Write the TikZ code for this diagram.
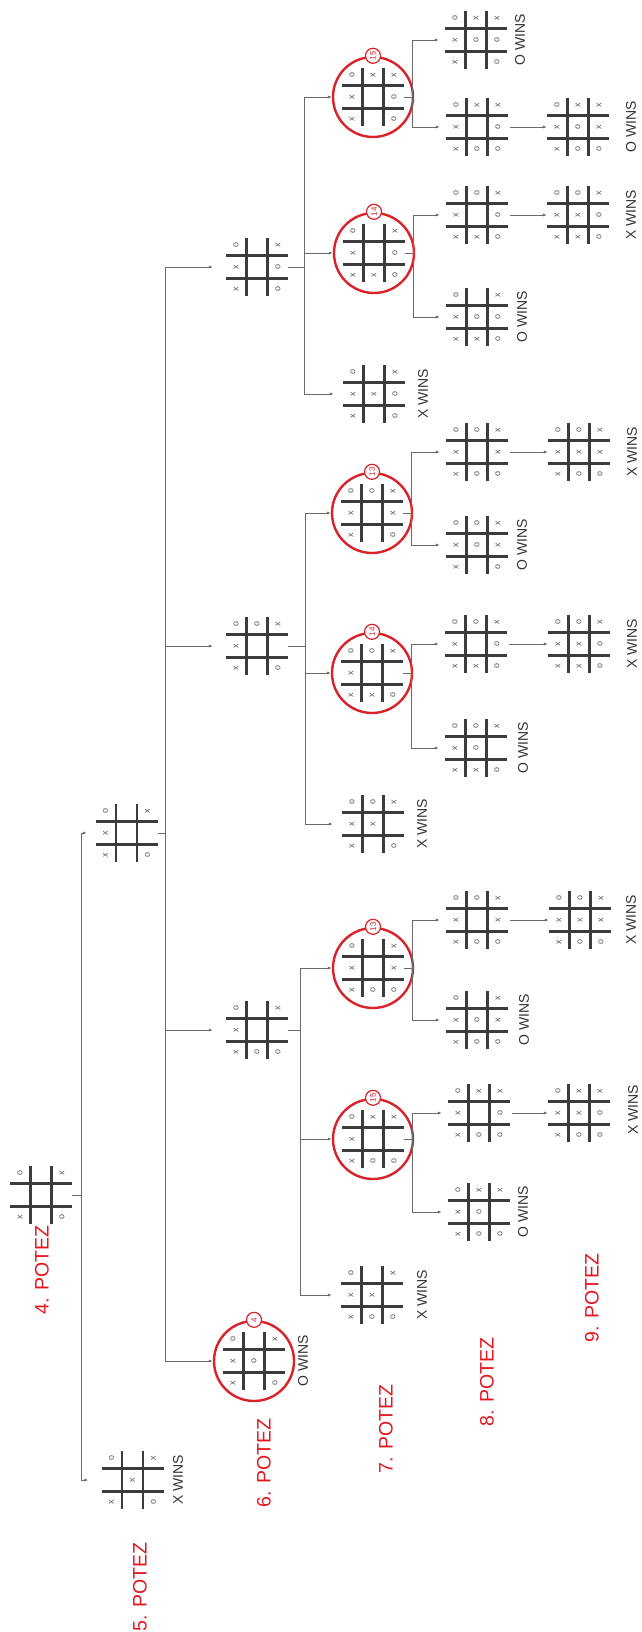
\documentclass[tikz,border=0pt]{standalone}
\usepackage{fontspec}
\setmainfont{Liberation Sans}
\usetikzlibrary{arrows.meta}
\definecolor{cred}{HTML}{D8232A}
\definecolor{tred}{HTML}{E3161E}
\definecolor{gridc}{HTML}{3C3C3C}
\definecolor{markc}{HTML}{555555}
\definecolor{connc}{HTML}{6A6A6A}
\definecolor{winc}{HTML}{333333}
\tikzset{
 gridline/.style={draw=gridc, line width=2.3pt},
 mk/.style={rotate=90, text=markc, font=\fontsize{9}{9}\selectfont, inner sep=0pt},
 bd/.style={inner sep=0pt, minimum width=62pt, minimum height=58pt},
 ring/.style={circle, draw=cred, line width=2.4pt, minimum size=80pt, inner sep=0pt},
 badge/.style={circle, draw=cred, fill=white, line width=1.2pt, minimum size=15pt, inner sep=0pt, text=cred, rotate=90, font=\fontsize{8}{8}\selectfont},
 conn/.style={draw=connc, line width=0.9pt, -{Latex[length=4pt,width=3.2pt]}},
 wins/.style={rotate=90, text=winc, font=\fontsize{14}{14}\selectfont, inner sep=0pt},
 potez/.style={rotate=90, text=tred, font=\fontsize{19.5}{19.5}\selectfont, inner sep=0pt},
}
\newcommand\board[3]{%
 \node[bd] (#1) at (#2) {};
 \begin{scope}[shift={(#2)}]
  \draw[gridline] (-10.5,-29) -- (-10.5,29) (10.5,-29) -- (10.5,29)
                  (-31,-11.5) -- (31,-11.5) (-31,11.5) -- (31,11.5);
  \foreach \col [count=\ci] in {#3} {
    \foreach \m [count=\ri] in \col {
      \if\m-\else
       \node[mk] at ({(\ci-2)*21},{(\ri-2)*22}) {\m};
      \fi
    }
  }
 \end{scope}}
\newcommand\cboard[4]{%
 \node[ring] (#1) at (#2) {};
 \board{#1b}{#2}{#4}
 \node[badge] (#1n) at (#1.north) {#3};}
\begin{document}
\begin{tikzpicture}[x=1pt,y=-1pt]
\useasboundingbox (0,0) rectangle (642,1632);

% ---------- level 4
\board{R}{41,1195}{{o,-,x},{-,-,-},{x,-,o}}
\node[potez] (P4) at (42,1270) {4. POTEZ};

% ---------- level 5
\board{B}{126.5,833}{{o,x,x},{-,-,-},{x,-,o}}
\board{A}{132.5,1480}{{o,-,x},{-,x,-},{x,-,o}}
\node[wins] (AL) at (178,1480) {X WINS};
\node[potez] (P5) at (140,1587) {5. POTEZ};
\draw[conn, shorten >=8.5pt] (R.east) -- ++(9,0) |- (B.west);
\draw[conn, shorten >=13pt] (R.east) -- ++(9,0) |- (A.west);

% ---------- level 6
\board{B4}{257,267}{{o,x,x},{-,-,-},{x,o,o}}
\board{B3}{257,646}{{o,x,x},{o,-,-},{x,-,o}}
\board{B2}{257,1030}{{o,x,x},{-,-,o},{x,-,o}}
\cboard{C4}{254,1361}{4}{{o,x,x},{-,o,-},{x,-,o}}
\node[wins] (C4L) at (303,1361) {O WINS};
\node[potez] (P6) at (264,1463) {6. POTEZ};
\foreach \c in {B4,B3,B2} \draw[conn, shorten >=13pt] (B.east) -- ++(7.5,0) |- (\c.west);
\draw[conn] (B.east) -- ++(7.5,0) |- (C4.west);

% ---------- level 7
\cboard{C15a}{373,97}{15}{{o,x,x},{x,-,-},{x,o,o}}
\cboard{C14a}{374,253}{14}{{o,x,x},{-,-,x},{x,o,o}}
\board{X7a}{374,394}{{o,x,x},{-,x,-},{x,o,o}}
\node[wins] (X7aL) at (423,394) {X WINS};
\draw[conn] (B4.east) -- ++(16,0) |- (C15a.west);
\draw[conn] (B4.east) -- ++(16,0) |- (C14a.west);
\draw[conn, shorten >=9pt] (B4.east) -- ++(16,0) |- (X7a.west);

\cboard{C13b}{372,513}{13}{{o,x,x},{o,-,-},{x,x,o}}
\cboard{C14b}{372,673}{14}{{o,x,x},{o,-,x},{x,-,o}}
\board{X7b}{373,824}{{o,x,x},{o,x,-},{x,-,o}}
\node[wins] (X7bL) at (422,824) {X WINS};
\draw[conn] (B3.east) -- ++(17,0) |- (C13b.west);
\draw[conn] (B3.east) -- ++(17,0) |- (C14b.west);
\draw[conn, shorten >=9pt] (B3.east) -- ++(17,0) |- (X7b.west);

\cboard{C13c}{373,968}{13}{{o,x,x},{-,-,o},{x,x,o}}
\cboard{C15c}{373,1139}{15}{{o,x,x},{x,-,o},{x,-,o}}
\board{X7c}{372,1295}{{o,x,x},{-,x,o},{x,-,o}}
\node[wins] (X7cL) at (422,1295) {X WINS};
\draw[conn] (B2.east) -- ++(12,0) |- (C13c.west);
\draw[conn] (B2.east) -- ++(12,0) |- (C15c.west);
\draw[conn, shorten >=9pt] (B2.east) -- ++(12,0) |- (X7c.west);
\node[potez] (P7) at (386,1429) {7. POTEZ};

% ---------- level 8 and 9
% C15a
\board{O8a}{476,40}{{o,x,x},{x,o,-},{x,o,o}}
\node[wins] (O8aL) at (520,40) {O WINS};
\board{N8a}{477,127}{{o,x,x},{x,-,o},{x,o,o}}
\board{N9a}{578,127}{{o,x,x},{x,o,o},{x,x,o}}
\node[wins] (N9aL) at (631,127) {O WINS};
\draw[conn, shorten >=6pt] (C15ab.east) -- ++(8,0) |- (O8a.west);
\draw[conn, shorten >=6pt] (C15ab.east) -- ++(8,0) |- (N8a.west);
\draw[conn, shorten <=2pt] (N8a.east) -- (N9a.west);
% C14a
\board{N8b}{477,215}{{o,x,x},{o,-,x},{x,o,o}}
\board{N9b}{578,215}{{o,x,x},{o,x,x},{x,o,o}}
\node[wins] (N9bL) at (631,215) {X WINS};
\board{O8b}{477,317}{{o,x,x},{-,o,x},{x,o,o}}
\node[wins] (O8bL) at (522,317) {O WINS};
\draw[conn, shorten >=6pt] (C14ab.east) -- ++(8,0) |- (N8b.west);
\draw[conn, shorten >=6pt] (C14ab.east) -- ++(8,0) |- (O8b.west);
\draw[conn, shorten <=2pt] (N8b.east) -- (N9b.west);
% C13b
\board{N8c}{477,452}{{o,x,x},{o,-,o},{x,x,o}}
\board{N9c}{579,452}{{o,x,x},{o,x,o},{x,x,o}}
\node[wins] (N9cL) at (632,452) {X WINS};
\board{O8c}{477,545}{{o,x,x},{o,o,-},{x,x,o}}
\node[wins] (O8cL) at (522,545) {O WINS};
\draw[conn, shorten >=6pt] (C13bb.east) -- ++(8,0) |- (N8c.west);
\draw[conn, shorten >=6pt] (C13bb.east) -- ++(8,0) |- (O8c.west);
\draw[conn, shorten <=2pt] (N8c.east) -- (N9c.west);
% C14b
\board{N8d}{476,644}{{o,x,x},{o,-,x},{x,o,o}}
\board{N9d}{579,644}{{o,x,x},{o,x,x},{x,o,o}}
\node[wins] (N9dL) at (632,644) {X WINS};
\board{O8d}{476,748}{{o,x,x},{o,o,x},{x,-,o}}
\node[wins] (O8dL) at (523,748) {O WINS};
\draw[conn, shorten >=6pt] (C14bb.east) -- ++(8,0) |- (N8d.west);
\draw[conn, shorten >=6pt] (C14bb.east) -- ++(8,0) |- (O8d.west);
\draw[conn, shorten <=2pt] (N8d.east) -- (N9d.west);
% C13c
\board{N8e}{477,920}{{o,x,x},{o,-,o},{x,x,o}}
\board{N9e}{580,920}{{o,x,x},{o,x,o},{x,x,o}}
\node[wins] (N9eL) at (631,920) {X WINS};
\board{O8e}{477,1020}{{o,x,x},{-,o,o},{x,x,o}}
\node[wins] (O8eL) at (524,1020) {O WINS};
\draw[conn, shorten >=6pt] (C13cb.east) -- ++(8,0) |- (N8e.west);
\draw[conn, shorten >=6pt] (C13cb.east) -- ++(8,0) |- (O8e.west);
\draw[conn, shorten <=2pt] (N8e.east) -- (N9e.west);
% C15c
\board{N8f}{479,1113}{{o,x,x},{x,-,o},{x,o,o}}
\board{N9f}{579,1113}{{o,x,x},{x,x,o},{x,o,o}}
\node[wins] (N9fL) at (633,1110) {X WINS};
\board{O8f}{479,1212}{{o,x,x},{x,o,o},{x,-,o}}
\node[wins] (O8fL) at (523,1212) {O WINS};
\draw[conn, shorten >=6pt] (C15cb.east) -- ++(8,0) |- (N8f.west);
\draw[conn, shorten >=6pt] (C15cb.east) -- ++(8,0) |- (O8f.west);
\draw[conn, shorten <=2pt] (N8f.east) -- (N9f.west);

\node[potez] (P8) at (487,1382) {8. POTEZ};
\node[potez] (P9) at (592,1298) {9. POTEZ};
\end{tikzpicture}
\end{document}
